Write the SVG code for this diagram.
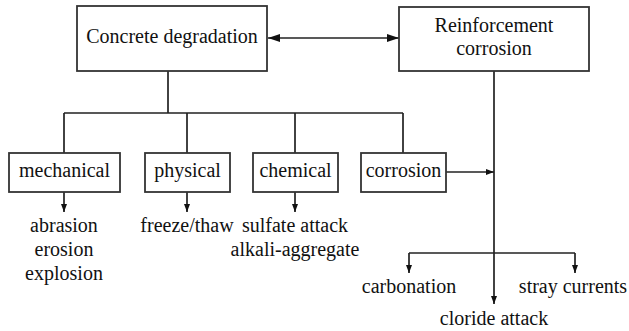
<svg xmlns="http://www.w3.org/2000/svg" width="629" height="331" viewBox="0 0 629 331">
<defs>
<marker id="big" viewBox="0 0 12 8" refX="12" refY="4" markerWidth="12" markerHeight="8" markerUnits="userSpaceOnUse" orient="auto-start-reverse"><path d="M0,0 L12,4 L0,8 Z" fill="#111"/></marker>
<marker id="sm" viewBox="0 0 8 6" refX="8" refY="3" markerWidth="8" markerHeight="6" markerUnits="userSpaceOnUse" orient="auto"><path d="M0,0 L8,3 L0,6 Z" fill="#111"/></marker>
</defs>
<g id="connectors" stroke="#222" stroke-width="1.7" fill="none">
<line x1="268" y1="38" x2="399" y2="38" marker-start="url(#big)" marker-end="url(#big)"/>
<path d="M168,71 V113 M64,113 H403 M64,113 V153 M187,113 V153 M295,113 V153 M403,113 V153"/>
<line x1="64" y1="192" x2="64" y2="212" marker-end="url(#sm)"/>
<line x1="187" y1="192" x2="187" y2="212" marker-end="url(#sm)"/>
<line x1="295" y1="192" x2="295" y2="212" marker-end="url(#sm)"/>
<line x1="446" y1="172" x2="494" y2="172" marker-end="url(#sm)"/>
<line x1="494" y1="71" x2="494" y2="304" marker-end="url(#sm)"/>
<path d="M409,253 H575"/>
<line x1="409" y1="253" x2="409" y2="273" marker-end="url(#sm)"/>
<line x1="575" y1="253" x2="575" y2="273" marker-end="url(#sm)"/>
</g>
<g font-family="Liberation Serif" font-size="20" fill="#111" text-anchor="middle">
<g id="concrete"><rect x="77" y="6" width="190" height="65" fill="#fff" stroke="#333" stroke-width="1.8"/><text x="172" y="43">Concrete degradation</text></g>
<g id="reinforcement"><rect x="399" y="7" width="190" height="64" fill="#fff" stroke="#333" stroke-width="1.8"/><text x="494" y="32">Reinforcement</text><text x="494" y="55">corrosion</text></g>
<g id="mechanical"><rect x="9" y="153" width="111" height="39" fill="#fff" stroke="#333" stroke-width="1.8"/><text x="64.5" y="177">mechanical</text></g>
<g id="physical"><rect x="145" y="153" width="85" height="39" fill="#fff" stroke="#333" stroke-width="1.8"/><text x="187.5" y="177">physical</text></g>
<g id="chemical"><rect x="253" y="153" width="85" height="39" fill="#fff" stroke="#333" stroke-width="1.8"/><text x="295.5" y="177">chemical</text></g>
<g id="corrosion"><rect x="361" y="153" width="85" height="39" fill="#fff" stroke="#333" stroke-width="1.8"/><text x="403.5" y="177">corrosion</text></g>
<g id="mech-items"><text x="64" y="232">abrasion</text><text x="64" y="256">erosion</text><text x="64" y="280">explosion</text></g>
<g id="phys-items"><text x="187" y="232">freeze/thaw</text></g>
<g id="chem-items"><text x="295" y="232">sulfate attack</text><text x="295" y="256">alkali-aggregate</text></g>
<g id="carbonation"><text x="409" y="293">carbonation</text></g>
<g id="stray"><text x="573" y="293">stray currents</text></g>
<g id="cloride"><text x="494" y="325">cloride attack</text></g>
</g>
</svg>
